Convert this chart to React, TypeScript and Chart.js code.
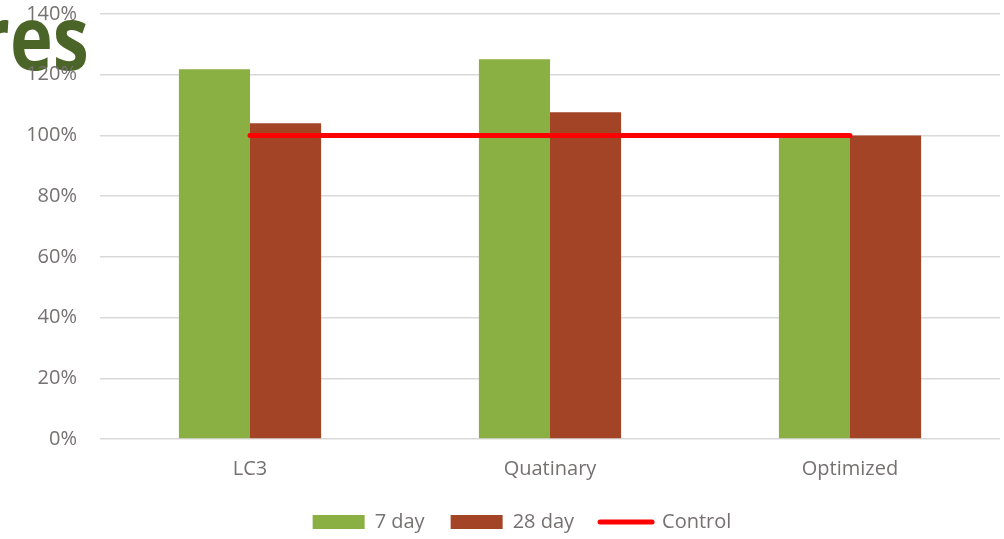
import React, { useEffect, useRef } from "react";
import { Chart, registerables } from "chart.js";

Chart.register(...registerables);

const categories = ["LC3", "Quatinary", "Optimized"];
const day7 = [121.8, 125.1, 100];
const day28 = [104.0, 107.6, 100];
const control = [100, 100, 100];
const seriesNames = ["7 day", "28 day", "Control"];
const yTicks = [0, 20, 40, 60, 80, 100, 120, 140];

const GREEN = "#8AAF43";
const BROWN = "#A34426";
const RED = "#FF0000";
const TEXT = "#767171";
const FONT = "'Open Sans', sans-serif";

const legendShift = {
  id: "legendShift",
  afterLayout(chart: any) {
    const lg = chart.legend;
    if (lg) {
      lg.left += 22;
      lg.right += 22;
    }
  },
};

export default function App() {
  const ref = useRef<HTMLCanvasElement | null>(null);

  useEffect(() => {
    document.body.style.margin = "0";
    const canvas = ref.current;
    if (!canvas) return;
    const chart = new Chart(canvas, {
      type: "bar",
      plugins: [legendShift],
      data: {
        labels: categories,
        datasets: [
          {
            type: "line",
            label: seriesNames[2],
            data: control,
            borderColor: RED,
            backgroundColor: RED,
            borderWidth: 5,
            borderCapStyle: "round",
            pointRadius: 0,
            order: 0,
          } as any,
          {
            type: "bar",
            label: seriesNames[0],
            data: day7,
            backgroundColor: GREEN,
            categoryPercentage: 0.474,
            barPercentage: 1,
            order: 1,
          },
          {
            type: "bar",
            label: seriesNames[1],
            data: day28,
            backgroundColor: BROWN,
            categoryPercentage: 0.474,
            barPercentage: 1,
            order: 2,
          },
        ],
      },
      options: {
        animation: false,
        responsive: true,
        maintainAspectRatio: false,
        layout: { padding: { top: 14, right: 4, left: 0, bottom: -3 } },
        font: { family: FONT, size: 20 },
        plugins: {
          tooltip: { enabled: false },
          legend: {
            position: "bottom",
            labels: {
              color: TEXT,
              font: { family: FONT, size: 20 },
              usePointStyle: true,
              pointStyleWidth: 52,
              boxHeight: 14,
              padding: 26,
              generateLabels: () => [
                {
                  text: seriesNames[0],
                  fillStyle: GREEN,
                  strokeStyle: GREEN,
                  lineWidth: 0,
                  pointStyle: "rect",
                  fontColor: TEXT,
                  datasetIndex: 1,
                },
                {
                  text: seriesNames[1],
                  fillStyle: BROWN,
                  strokeStyle: BROWN,
                  lineWidth: 0,
                  pointStyle: "rect",
                  fontColor: TEXT,
                  datasetIndex: 2,
                },
                {
                  text: seriesNames[2],
                  fillStyle: RED,
                  strokeStyle: RED,
                  lineWidth: 5,
                  lineCap: "round",
                  pointStyle: "line",
                  fontColor: TEXT,
                  datasetIndex: 0,
                },
              ] as any,
            },
          },
        },
        scales: {
          x: {
            grid: { display: false, drawTicks: false },
            border: { display: false },
            ticks: { color: TEXT, font: { family: FONT, size: 20 }, padding: 18 },
            afterFit: (scale: any) => {
              scale.height = 47;
            },
          },
          y: {
            min: 0,
            max: 140,
            afterBuildTicks: (scale: any) => {
              scale.ticks = yTicks.map((v) => ({ value: v }));
            },
            afterFit: (scale: any) => {
              scale.width = 100;
            },
            grid: {
              color: "#D9D9D9",
              lineWidth: 1.5,
              drawTicks: true,
              tickLength: 23,
              tickColor: "rgba(0,0,0,0)",
            },
            border: { display: false },
            ticks: {
              color: TEXT,
              font: { family: FONT, size: 20 },
              padding: 0,
              callback: (v: any) => v + "%",
            },
          },
        },
      },
    });
    return () => chart.destroy();
  }, []);

  return (
    <div style={{ position: "absolute", left: 0, top: 0, width: 1004, height: 539, background: "#fff", overflow: "hidden" }}>
      <svg width={1004} height={539} style={{ position: "absolute", left: 0, top: 0 }}>
        <text
          x={0}
          y={70}
          transform="translate(-23,0) scale(0.806,1)"
          fontFamily="Open Sans, sans-serif"
          fontWeight={700}
          fontSize={90}
          fill="#4B6428"
        >
          res
        </text>
      </svg>
      <canvas ref={ref} style={{ position: "absolute", left: 0, top: 0, width: 1004, height: 539 }} />
    </div>
  );
}
